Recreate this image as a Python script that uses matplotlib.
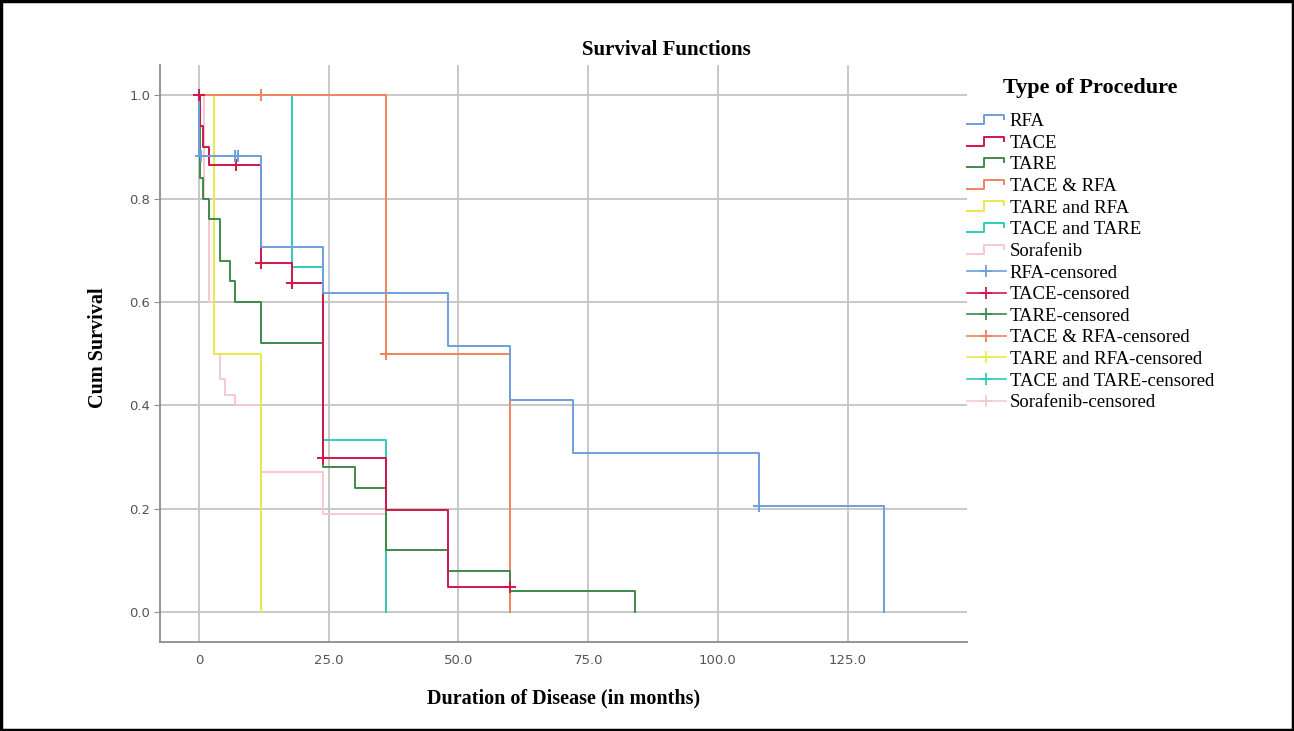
import numpy as np
import matplotlib
matplotlib.use("Agg")
import matplotlib.pyplot as plt
from matplotlib.lines import Line2D
from matplotlib.legend_handler import HandlerBase
import matplotlib.patches as mpatches

# Kaplan-Meier steps (months, cum survival)
groups = ["RFA", "TACE", "TARE", "TACE & RFA", "TARE and RFA", "TACE and TARE", "Sorafenib"]
colors = ["#6c9fdc", "#d0174a", "#3f8a4a", "#f2825e", "#e9e94a", "#2ccdb8", "#f6c9cf"]

rfa_t = [0, 0, 12, 24, 48, 60, 72, 108, 132]
rfa_s = [1.0, 0.882, 0.706, 0.617, 0.514, 0.411, 0.308, 0.205, 0.0]
rfa_ct = [0.5, 7, 7.6, 108]
rfa_cs = [0.882, 0.882, 0.882, 0.205]

tace_t = [0, 0.3, 0.8, 1.9, 12, 18, 24, 36, 48, 60]
tace_s = [1.0, 0.94, 0.90, 0.865, 0.676, 0.636, 0.297, 0.198, 0.049, 0.049]
tace_ct = [0, 7.1, 12, 18, 24, 60]
tace_cs = [1.0, 0.865, 0.676, 0.636, 0.297, 0.049]

tare_t = [0, 0.3, 0.8, 2, 4, 6, 7, 12, 24, 30, 36, 48, 60, 84]
tare_s = [1.0, 0.84, 0.80, 0.76, 0.68, 0.64, 0.60, 0.52, 0.28, 0.24, 0.12, 0.08, 0.04, 0.0]
tare_ct = []
tare_cs = []

tr_t = [0, 36, 60]
tr_s = [1.0, 0.5, 0.0]
tr_ct = [12, 36]
tr_cs = [1.0, 0.5]

tarerfa_t = [0, 3, 12]
tarerfa_s = [1.0, 0.5, 0.0]
tarerfa_ct = []
tarerfa_cs = []

tt_t = [0, 18, 24, 36]
tt_s = [1.0, 0.667, 0.333, 0.0]
tt_ct = []
tt_cs = []

sor_t = [0, 1, 2, 3, 4, 5, 7, 12, 24, 36]
sor_s = [1.0, 0.8, 0.6, 0.5, 0.45, 0.42, 0.40, 0.27, 0.19, 0.0]
sor_ct = []
sor_cs = []

steps = [(rfa_t, rfa_s), (tace_t, tace_s), (tare_t, tare_s), (tr_t, tr_s),
         (tarerfa_t, tarerfa_s), (tt_t, tt_s), (sor_t, sor_s)]
cens = [(rfa_ct, rfa_cs), (tace_ct, tace_cs), (tare_ct, tare_cs), (tr_ct, tr_cs),
        (tarerfa_ct, tarerfa_cs), (tt_ct, tt_cs), (sor_ct, sor_cs)]

xticks = [0, 25, 50, 75, 100, 125]
xticklabels = ["0", "25.0", "50.0", "75.0", "100.0", "125.0"]
yticks = [0.0, 0.2, 0.4, 0.6, 0.8, 1.0]

serif = "Liberation Serif"

fig = plt.figure(figsize=(12.94, 7.31), dpi=100)
ax = fig.add_axes([0.1236, 0.1218, 0.6237, 0.789])

# draw lines in reverse so RFA ends up on top like SPSS
for (t, s), c in list(zip(steps, colors))[::-1]:
    ax.step(t, s, where="post", color=c, lw=1.4, zorder=3)
for (t, s), c in list(zip(cens, colors))[::-1]:
    if len(t):
        ax.plot(t, s, ls="none", marker="+", ms=9, mew=1.4, color=c, zorder=4)

ax.set_xlim(-7.5, 148)
ax.set_ylim(-0.058, 1.058)
ax.set_xticks(xticks)
ax.set_xticklabels(xticklabels)
ax.set_yticks(yticks)
ax.set_yticklabels(["%.1f" % v for v in yticks])
ax.grid(True, color="#c4c4c4", lw=1.3, zorder=0)
for sp in ["top", "right"]:
    ax.spines[sp].set_visible(False)
for sp in ["left", "bottom"]:
    ax.spines[sp].set_color("#8c8c8c")
    ax.spines[sp].set_linewidth(1.3)
ax.tick_params(axis="y", length=4, color="#8c8c8c", pad=3, labelsize=9.5, labelcolor="#555555")
ax.tick_params(axis="x", length=0, pad=9, labelsize=9.5, labelcolor="#555555")

ax.set_xlabel("Duration of Disease (in months)", fontfamily=serif, fontweight="bold", fontsize=14.5)
ax.xaxis.set_label_coords(0.5, -0.08)
ax.set_ylabel("Cum Survival", fontfamily=serif, fontweight="bold", fontsize=14.5)
ax.yaxis.set_label_coords(-0.064, 0.51)
fig.text(0.515, 0.932, "Survival Functions", ha="center", va="center",
         fontfamily=serif, fontweight="bold", fontsize=15)


class StepHandler(HandlerBase):
    def create_artists(self, legend, orig, xd, yd, w, h, fs, trans):
        xs = np.array([0, 0.45, 0.45, 0.95, 0.95]) * w - xd
        ys = np.array([0.15, 0.15, 0.85, 0.85, 0.55]) * h - yd
        ln = Line2D(xs, ys, color=orig.get_color(), lw=1.4, transform=trans)
        return [ln]


class CensorHandler(HandlerBase):
    def create_artists(self, legend, orig, xd, yd, w, h, fs, trans):
        ln = Line2D([-xd, w - xd], [0.5 * h - yd] * 2, color=orig.get_color(), lw=1.2, transform=trans)
        mk = Line2D([0.5 * w - xd], [0.5 * h - yd], ls="none", marker="+", ms=9, mew=1.3,
                    color=orig.get_color(), transform=trans)
        return [ln, mk]


handles, labels, hmap = [], [], {}
for g, c in zip(groups, colors):
    h = Line2D([], [], color=c)
    handles.append(h)
    labels.append(g)
    hmap[h] = StepHandler()
for g, c in zip(groups, colors):
    h = Line2D([], [], color=c, marker="+")
    handles.append(h)
    labels.append(g + "-censored")
    hmap[h] = CensorHandler()

leg = fig.legend(handles, labels, handler_map=hmap, loc="upper left",
                 bbox_to_anchor=(0.747, 1 - 113 / 731), frameon=False,
                 prop={"family": serif, "size": 13.5},
                 handlelength=2.1, handletextpad=0.2, labelspacing=0.24,
                 borderaxespad=0, borderpad=0)
fig.text(1003 / 1294, 1 - 88 / 731, "Type of Procedure", ha="left", va="center",
         fontfamily=serif, fontweight="bold", fontsize=16)

fig.patches.append(mpatches.Rectangle((0.001, 0.002), 0.998, 0.996, transform=fig.transFigure,
                                      fill=False, edgecolor="black", lw=2.5))

fig.savefig("out.png", dpi=100)
